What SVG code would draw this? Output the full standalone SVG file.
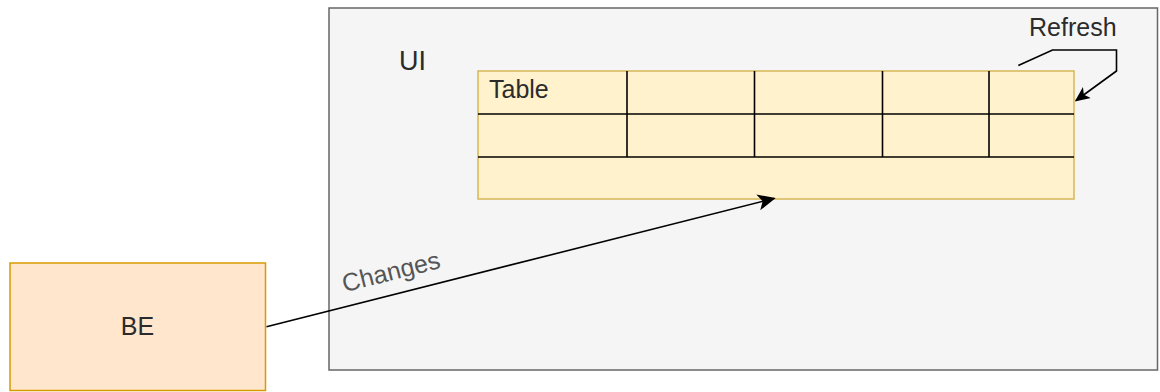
<svg xmlns="http://www.w3.org/2000/svg" width="1160" height="392" viewBox="0 0 1160 392">
  <defs>
    <style>
      .lbl { font-family: "Liberation Sans", Arial, sans-serif; font-size: 25px; fill: #2b2b2b; }
      .grid { stroke: #000000; stroke-width: 1.6; fill: none; }
      .conn { stroke: #000000; stroke-width: 1.6; fill: none; }
    </style>
    <marker id="arrow" viewBox="0 0 10 10" refX="9" refY="5" markerWidth="15" markerHeight="15" markerUnits="userSpaceOnUse" orient="auto">
      <path d="M0,0.5 L10,5 L0,9.5 L2.5,5 Z" fill="#000000"/>
    </marker>
    <marker id="arrowL" viewBox="0 0 10 10" refX="9" refY="5" markerWidth="18" markerHeight="18" markerUnits="userSpaceOnUse" orient="auto">
      <path d="M0,0.5 L10,5 L0,9.5 L2.5,5 Z" fill="#000000"/>
    </marker>
  </defs>

  <rect width="1160" height="392" fill="#ffffff"/>

  <!-- UI container -->
  <g id="ui">
    <rect x="329" y="8" width="828.5" height="362" fill="#f5f5f5" stroke="#666666" stroke-width="1.5"/>
    <text class="lbl" x="399" y="70" style="font-size:27px">UI</text>
  </g>

  <!-- Table with grid -->
  <g id="table">
    <rect x="478" y="71" width="596" height="128" fill="#fff2cc" stroke="#d6b656" stroke-width="1.5"/>
    <line class="grid" x1="478" y1="114" x2="1074" y2="114"/>
    <line class="grid" x1="478" y1="157" x2="1074" y2="157"/>
    <line class="grid" x1="627" y1="71" x2="627" y2="157"/>
    <line class="grid" x1="754.5" y1="71" x2="754.5" y2="157"/>
    <line class="grid" x1="882.5" y1="71" x2="882.5" y2="157"/>
    <line class="grid" x1="989" y1="71" x2="989" y2="157"/>
    <text class="lbl" x="489" y="98">Table</text>
  </g>

  <!-- Backend node -->
  <g id="be">
    <rect x="10" y="263" width="255.5" height="127.5" fill="#ffe6cc" stroke="#d79b00" stroke-width="1.5"/>
    <text class="lbl" x="137.5" y="335" text-anchor="middle">BE</text>
  </g>

  <!-- Connectors -->
  <g id="connectors">
    <path class="conn" d="M266.5,326.7 L774,198.5" marker-end="url(#arrowL)"/>
    <text class="lbl" x="393" y="280" text-anchor="middle" style="fill:#555555" transform="rotate(-14.18 393 280)">Changes</text>

    <path class="conn" d="M1018.3,65.5 L1052.5,50 L1116.5,50 L1116.5,71 L1076,100.5" marker-end="url(#arrow)"/>
    <text class="lbl" x="1029" y="36">Refresh</text>
  </g>
</svg>
